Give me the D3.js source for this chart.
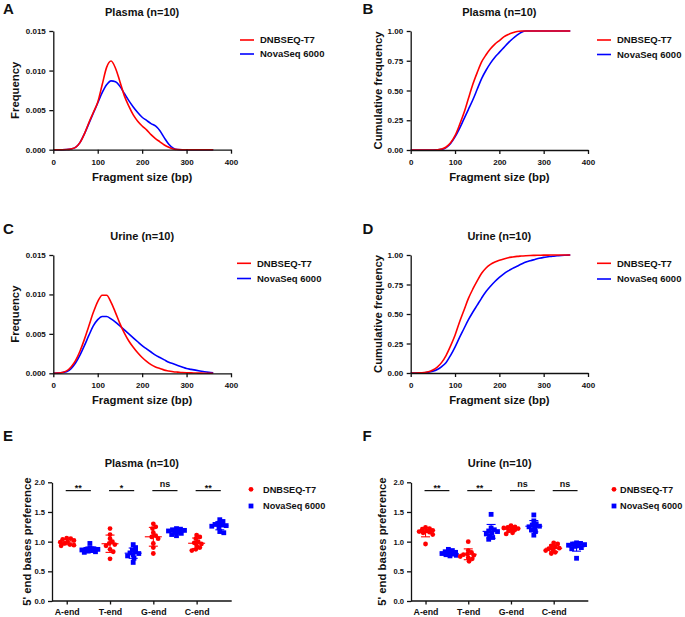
<!DOCTYPE html>
<html><head><meta charset="utf-8">
<script src="https://cdn.jsdelivr.net/npm/d3@7/dist/d3.min.js"></script>
<style>
body{margin:0;background:#fff;}
svg{display:block;}
</style></head><body>
<svg id="fig" width="685" height="617"></svg>
<script>
// ---------------- DATA ----------------
const seriesNames = ["DNBSEQ-T7", "NovaSeq 6000"];
const fragmentTicks = [0, 100, 200, 300, 400];
const freqTicks = [0, 0.005, 0.010, 0.015];
const cumTicks = [0, 0.25, 0.5, 0.75, 1.0];
const prefTicks = [0, 0.5, 1.0, 1.5, 2.0];

const fragmentSizeBp = [0,10,20,30,40,50,60,70,80,90,100,110,120,130,140,150,160,170,180,190,200,210,220,230,240,250,260,270,280,290,300,310,320,330,340,350,360];

// Panel A: Plasma frequency
const plasmaFreqT7 = [0,0,0,0.00002,0.0001,0.0003,0.0009,0.0020,0.0034,0.0047,0.0060,0.0082,0.0104,0.0112,0.0103,0.0086,0.0068,0.0055,0.0044,0.0036,0.0030,0.0025,0.0019,0.0014,0.0010,0.0006,0.0003,0.0001,0.00002,0,0,0,0,0,0,0,0];
const plasmaFreqNova = [0,0,0,0.00002,0.0001,0.0003,0.0009,0.0020,0.0033,0.0046,0.0059,0.0072,0.0082,0.0087,0.0086,0.0080,0.0071,0.0062,0.0054,0.0047,0.0041,0.0037,0.0033,0.0030,0.0024,0.0015,0.0007,0.0002,0.00002,0,0,0,0,0,0,0,0];

// Panel B: Plasma cumulative frequency
const plasmaCumT7 = [0,0,0,0,0,0,0.002,0.008,0.025,0.06,0.12,0.21,0.31,0.43,0.55,0.65,0.74,0.80,0.85,0.89,0.92,0.95,0.97,0.985,0.996,1,1,1,1,1,1,1,1,1,1,1,1];
const plasmaCumNova = [0,0,0,0,0,0,0.001,0.005,0.02,0.055,0.11,0.18,0.26,0.34,0.42,0.51,0.60,0.67,0.73,0.78,0.82,0.86,0.90,0.935,0.965,0.99,1,1,1,1,1,1,1,1,1,1,1];

// Panel C: Urine frequency
const urineFreqT7 = [0,0.00003,0.0001,0.0003,0.0008,0.0016,0.0028,0.0043,0.0060,0.0077,0.0091,0.0099,0.0099,0.0090,0.0077,0.0063,0.0051,0.0041,0.0033,0.0026,0.0020,0.0015,0.0011,0.0008,0.0006,0.0004,0.0003,0.0002,0.00015,0.0001,0.00007,0.00005,0.00003,0.00002,0.00001,0.00001,0];
const urineFreqNova = [0,0.00002,0.0001,0.0002,0.0006,0.0013,0.0023,0.0035,0.0048,0.0060,0.0068,0.0072,0.0072,0.0069,0.0065,0.0060,0.0055,0.0050,0.0045,0.0040,0.0035,0.0031,0.0027,0.0023,0.0020,0.0017,0.0014,0.0012,0.0010,0.0008,0.0006,0.0005,0.0004,0.0003,0.0002,0.00012,0.00006];

// Panel D: Urine cumulative frequency
const urineCumT7 = [0,0,0.001,0.004,0.01,0.025,0.05,0.09,0.15,0.23,0.32,0.43,0.53,0.63,0.71,0.78,0.845,0.89,0.92,0.94,0.955,0.967,0.977,0.983,0.988,0.991,0.994,0.996,0.997,0.998,0.999,0.999,1,1,1,1,1];
const urineCumNova = [0,0,0.0005,0.002,0.006,0.015,0.03,0.055,0.09,0.15,0.22,0.30,0.375,0.45,0.515,0.575,0.635,0.69,0.735,0.775,0.81,0.84,0.865,0.887,0.905,0.923,0.94,0.952,0.962,0.972,0.98,0.985,0.99,0.993,0.996,0.998,1];

// Panels E/F: 5' end bases preference
const endBases = ["A-end", "T-end", "G-end", "C-end"];
const plasmaSig = ["**", "*", "ns", "**"];
const urineSig = ["**", "**", "ns", "ns"];

const plasmaPrefT7 = [
  [1.06,1.05,1.04,1.02,1.00,0.99,0.97,0.95,0.94,0.93],
  [1.22,1.12,1.05,1.00,0.97,0.95,0.93,0.87,0.83,0.71],
  [1.30,1.25,1.22,1.15,1.10,1.08,1.05,0.97,0.90,0.80],
  [1.11,1.08,1.05,1.00,0.98,0.96,0.93,0.90,0.87,0.85]
];
const plasmaPrefNova = [
  [0.97,0.89,0.88,0.87,0.87,0.86,0.85,0.84,0.83,0.82],
  [0.95,0.90,0.86,0.83,0.81,0.80,0.78,0.76,0.72,0.65],
  [1.22,1.21,1.20,1.19,1.18,1.17,1.16,1.14,1.12,1.10],
  [1.37,1.34,1.31,1.29,1.28,1.27,1.26,1.24,1.17,1.15]
];
const urinePrefT7 = [
  [1.24,1.22,1.21,1.19,1.18,1.17,1.16,1.15,1.12,0.96],
  [1.00,0.85,0.82,0.79,0.78,0.77,0.75,0.73,0.71,0.67],
  [1.27,1.25,1.24,1.23,1.22,1.21,1.20,1.18,1.15,1.13],
  [0.98,0.96,0.93,0.91,0.89,0.88,0.87,0.85,0.82,0.80]
];
const urinePrefNova = [
  [0.87,0.85,0.83,0.82,0.81,0.80,0.79,0.78,0.77,0.76],
  [1.46,1.23,1.20,1.18,1.17,1.15,1.13,1.10,1.07,1.04],
  [1.45,1.35,1.30,1.28,1.26,1.25,1.23,1.20,1.17,1.11],
  [0.98,0.97,0.96,0.95,0.94,0.93,0.92,0.90,0.88,0.72]
];

// ---------------- DRAWING ----------------
const colors = ["#ff0000", "#0000ff"];
const FONT = '"Liberation Sans", Arial, Helvetica, sans-serif';
const INK = "#111";
const svg = d3.select("#fig").attr("font-family", FONT).attr("font-weight", "bold");

function txt(g, x, y, s, size, anchor) {
  return g.append("text").attr("x", x).attr("y", y).attr("font-size", size)
    .attr("text-anchor", anchor || "middle").attr("fill", INK).text(s);
}
function styleAxis(ax, size) {
  ax.attr("font-family", FONT).attr("font-size", size).attr("font-weight", "bold");
  ax.selectAll("path,line").attr("stroke", INK).attr("stroke-width", 1.3);
  ax.selectAll("text").attr("fill", INK);
}
function yTitle(g, x, yc, s) {
  g.append("text").attr("transform", `translate(${x},${yc}) rotate(-90)`)
    .attr("text-anchor", "middle").attr("font-size", 11.3).attr("fill", INK).text(s);
}

function linePanel(c) {
  const g = svg.append("g");
  const x = d3.scaleLinear().domain([0, 400]).range([c.x0, c.x1]);
  const y = d3.scaleLinear().domain([0, c.yMax]).range([c.yB, c.yT]);
  const line = d3.line().x((d, i) => x(fragmentSizeBp[i])).y(d => y(d)).curve(d3.curveMonotoneX);
  [1, 0].forEach(k => {
    g.append("path").datum(c.series[k]).attr("d", line).attr("fill", "none")
      .attr("stroke", colors[k]).attr("stroke-width", 1.6).attr("stroke-linejoin", "round");
  });
  const xa = g.append("g").attr("transform", `translate(0,${c.yB})`)
    .call(d3.axisBottom(x).tickValues(fragmentTicks).tickSize(4).tickSizeOuter(0).tickPadding(5.5));
  styleAxis(xa, 8);
  const ya = g.append("g").attr("transform", `translate(${c.x0},0)`)
    .call(d3.axisLeft(y).tickValues(c.ticks).tickFormat(d3.format(c.fmt)).tickSize(4).tickSizeOuter(0).tickPadding(3.5));
  styleAxis(ya, 8);
  txt(g, (c.x0 + c.x1) / 2, c.titleY, c.title, 11);
  txt(g, c.letterX, c.letterY, c.letter, 15, "start");
  txt(g, (c.x0 + c.x1) / 2, c.yB + 31, "Fragment size (bp)", 11.3);
  yTitle(g, c.yTitleX, (c.yB + c.yT) / 2, c.yLabel);
  seriesNames.forEach((n, k) => {
    const ly = c.legY[k];
    g.append("line").attr("x1", c.legX).attr("x2", c.legX + 14).attr("y1", ly).attr("y2", ly)
      .attr("stroke", colors[k]).attr("stroke-width", 1.6);
    txt(g, c.legX + 20, ly + 3.4, n, 9.5, "start");
  });
}

function dotPanel(c) {
  const g = svg.append("g");
  const xb = d3.scaleBand().domain(endBases).range([c.x0, c.x1]).paddingInner(0).paddingOuter(0.075);
  const y = d3.scaleLinear().domain([0, 2]).range([c.yB, c.yT]);
  const pos = (cat, k) => xb(cat) + xb.bandwidth() * (k === 0 ? 0.265 : 0.8);
  const r = 2.4;

  function swarm(vals, cx) {
    const placed = [];
    const order = vals.map((v, i) => i).sort((a, b) => vals[b] - vals[a]);
    const minD = 1.5 * r, maxOff = 8;
    order.forEach(i => {
      const py = y(vals[i]);
      let best = cx, bestScore = -1;
      for (let k = 0; k < 60; k++) {
        const off = (k % 2 ? 1 : -1) * Math.ceil(k / 2) * 0.8;
        if (Math.abs(off) > maxOff) break;
        const cand = cx + off;
        const d = placed.length ? d3.min(placed, p => Math.hypot(p.x - cand, p.y - py)) : 99;
        if (d >= minD) { best = cand; bestScore = 99; break; }
        if (d > bestScore) { bestScore = d; best = cand; }
      }
      placed.push({ x: best, y: py });
    });
    return placed;
  }

  endBases.forEach((cat, i) => {
    [c.t7, c.nova].forEach((arr, k) => {
      const vals = arr[i];
      const cx = pos(cat, k);
      const pts = swarm(vals, cx);
      if (k === 0) {
        g.selectAll(null).data(pts).enter().append("circle")
          .attr("cx", d => d.x).attr("cy", d => d.y).attr("r", r).attr("fill", colors[0]);
      } else {
        g.selectAll(null).data(pts).enter().append("rect")
          .attr("x", d => d.x - r).attr("y", d => d.y - r).attr("width", 2 * r).attr("height", 2 * r).attr("fill", colors[1]);
      }
      const m = d3.mean(vals), sd = d3.deviation(vals);
      const eb = g.append("g").attr("stroke", colors[k]).attr("stroke-width", 1.1);
      eb.append("line").attr("x1", cx - 8.5).attr("x2", cx + 8.5).attr("y1", y(m)).attr("y2", y(m));
      eb.append("line").attr("x1", cx).attr("x2", cx).attr("y1", y(m - sd)).attr("y2", y(m + sd));
      eb.append("line").attr("x1", cx - 4.5).attr("x2", cx + 4.5).attr("y1", y(m - sd)).attr("y2", y(m - sd));
      eb.append("line").attr("x1", cx - 4.5).attr("x2", cx + 4.5).attr("y1", y(m + sd)).attr("y2", y(m + sd));
    });
    // significance
    const sy = y(1.86);
    const xa1 = pos(cat, 0) - 1, xa2 = pos(cat, 1) + 1;
    g.append("line").attr("x1", xa1).attr("x2", xa2).attr("y1", sy).attr("y2", sy)
      .attr("stroke", INK).attr("stroke-width", 1.2);
    const s = c.sig[i];
    if (s === "ns") txt(g, (xa1 + xa2) / 2, sy - 3.3, s, 9);
    else txt(g, (xa1 + xa2) / 2, sy + 0.8, s, 9);
  });

  // axes
  const pt = d3.scalePoint().domain(endBases).range([pos(endBases[0], 0), pos(endBases[3], 0)]);
  const xa = g.append("g").attr("transform", `translate(0,${c.yB})`)
    .call(d3.axisBottom(pt).tickSize(3.5).tickSizeOuter(0).tickPadding(4.5));
  styleAxis(xa, 8.8);
  xa.select(".domain").remove();
  xa.append("line").attr("x1", c.x0).attr("x2", c.x1).attr("y1", 0).attr("y2", 0)
    .attr("stroke", INK).attr("stroke-width", 1.3);
  const ya = g.append("g").attr("transform", `translate(${c.x0},0)`)
    .call(d3.axisLeft(y).tickValues(prefTicks).tickFormat(d3.format(".1f")).tickSize(4).tickSizeOuter(0).tickPadding(3));
  styleAxis(ya, 7.6);

  txt(g, (c.x0 + c.x1) / 2, c.titleY, c.title, 11);
  txt(g, c.letterX, c.letterY, c.letter, 15, "start");
  yTitle(g, c.yTitleX, (c.yB + c.yT) / 2, "5' end bases preference");

  // legend
  seriesNames.forEach((n, k) => {
    const ly = c.legY[k];
    if (k === 0) g.append("circle").attr("cx", c.legX).attr("cy", ly).attr("r", 2.4).attr("fill", colors[0]);
    else g.append("rect").attr("x", c.legX - 2.4).attr("y", ly - 2.4).attr("width", 4.8).attr("height", 4.8).attr("fill", colors[1]);
    txt(g, c.legTextX, ly + 3.3, n, 9.2, "start");
  });
}

linePanel({ x0: 53.3, x1: 231, yB: 149.7, yT: 31, yMax: 0.015, ticks: freqTicks, fmt: ".3f",
  series: [plasmaFreqT7, plasmaFreqNova], title: "Plasma (n=10)", titleY: 15.5, letter: "A", letterX: 3, letterY: 13.5,
  yLabel: "Frequency", yTitleX: 18.5, legX: 240, legY: [40, 54] });
linePanel({ x0: 410.7, x1: 588, yB: 150, yT: 31, yMax: 1, ticks: cumTicks, fmt: ".2f",
  series: [plasmaCumT7, plasmaCumNova], title: "Plasma (n=10)", titleY: 15.5, letter: "B", letterX: 362.5, letterY: 13.5,
  yLabel: "Cumulative frequency", yTitleX: 381.5, legX: 597, legY: [40, 54.5] });
linePanel({ x0: 53.3, x1: 231, yB: 373.3, yT: 255, yMax: 0.015, ticks: freqTicks, fmt: ".3f",
  series: [urineFreqT7, urineFreqNova], title: "Urine (n=10)", titleY: 239.5, letter: "C", letterX: 3, letterY: 234,
  yLabel: "Frequency", yTitleX: 18.5, legX: 237, legY: [263.3, 278.5] });
linePanel({ x0: 410.7, x1: 588, yB: 373, yT: 255, yMax: 1, ticks: cumTicks, fmt: ".2f",
  series: [urineCumT7, urineCumNova], title: "Urine (n=10)", titleY: 239.5, letter: "D", letterX: 362.5, letterY: 233.5,
  yLabel: "Cumulative frequency", yTitleX: 381.5, legX: 597, legY: [263.3, 279] });
dotPanel({ x0: 52, x1: 231.7, yB: 601, yT: 482.3, t7: plasmaPrefT7, nova: plasmaPrefNova, sig: plasmaSig,
  title: "Plasma (n=10)", titleY: 467, letter: "E", letterX: 3, letterY: 440.5, yTitleX: 31,
  legX: 251, legTextX: 263, legY: [489.3, 506] });
dotPanel({ x0: 411, x1: 588.3, yB: 601, yT: 482.3, t7: urinePrefT7, nova: urinePrefNova, sig: urineSig,
  title: "Urine (n=10)", titleY: 467, letter: "F", letterX: 362.5, letterY: 440.5, yTitleX: 386,
  legX: 614, legTextX: 620, legY: [489.3, 506] });
</script>
</body></html>
